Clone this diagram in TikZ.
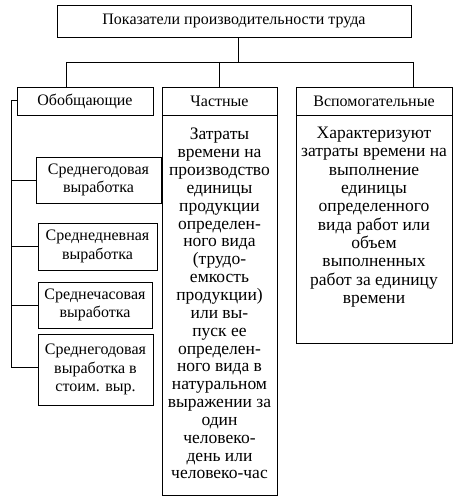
\documentclass[tikz,border=0pt]{standalone}
\usepackage{fontspec}
\setmainfont{Liberation Serif}
\begin{document}
\begin{tikzpicture}[x=1pt,y=-1pt,
  box/.style={draw, line width=0.9pt, inner sep=0pt, align=center},
  hdr/.style={font=\fontsize{16}{18}\selectfont},
  sub/.style={box, font=\fontsize{16}{18.4}\selectfont},
  bodytext/.style={inner sep=0pt, align=center, anchor=north},
  conn/.style={line width=0.9pt}]
\useasboundingbox (0,0) rectangle (459,503);
% top
\node[box, hdr, minimum width=354pt, minimum height=32pt] (top) at (234,21) {Показатели производительности труда};
% second row headers
\node[box, hdr, minimum width=136pt, minimum height=28pt] (ob) at (85,101) {Обобщающие};
\node[box, hdr, minimum width=115pt, minimum height=28pt] (ch) at (219.5,101) {Частные};
\node[box, hdr, minimum width=156pt, minimum height=28pt] (vs) at (374,101) {Вспомогательные};
% bodies
\node[box, minimum width=115pt, minimum height=380pt] (chbody) at (219.5,305) {};
\node[box, minimum width=156pt, minimum height=228pt] (vsbody) at (374,229) {};
\node[bodytext, font=\fontsize{17.5}{17.85}\selectfont] (chtext) at (219.5,128) {Затраты\\времени на\\производство\\единицы\\продукции\\определен-\\ного вида\\(трудо-\\емкость\\продукции)\\или вы-\\пуск ее\\определен-\\ного вида в\\натуральном\\выражении за\\один\\человеко-\\день или\\человеко-час};
\node[bodytext, font=\fontsize{17.5}{18.3}\selectfont] (vstext) at (374,127) {Характеризуют\\затраты времени на\\выполнение\\единицы\\определенного\\вида работ или\\объем\\выполненных\\работ за единицу\\времени};
% sub boxes
\node[sub, minimum width=125pt, minimum height=46pt] (s1) at (98.5,180) {Среднегодовая\\выработка};
\node[sub, minimum width=119pt, minimum height=47pt] (s2) at (97.5,246.5) {Среднедневная\\выработка};
\node[sub, minimum width=114pt, minimum height=46pt] (s3) at (95,305) {Среднечасовая\\выработка};
\node[sub, minimum width=115pt, minimum height=71pt] (s4) at (95.5,369.5) {Среднегодовая\\выработка в\\стоим. выр.};
% connectors
\coordinate (bus) at (238,62);
\coordinate (busL) at (66,62);
\coordinate (busR) at (413,62);
\coordinate (spine) at (11,100);
\coordinate (spineEnd) at (11,367);
\draw[conn] (top.south -| bus) -- (bus);
\draw[conn] (busL) -- (busR);
\draw[conn] (busL) -- (busL |- ob.north);
\draw[conn] (ch.north |- bus) -- (ch.north);
\draw[conn] (busR) -- (busR |- vs.north);
\draw[conn] (ob.west |- spine) -- (spine) -- (spineEnd);
\draw[conn] (spine |- s1.west) -- (s1.west);
\draw[conn] (spine |- s2.west) -- (s2.west);
\draw[conn] (spine |- s3.west) -- (s3.west);
\draw[conn] (spineEnd) -- (spineEnd -| s4.west);
\end{tikzpicture}
\end{document}
